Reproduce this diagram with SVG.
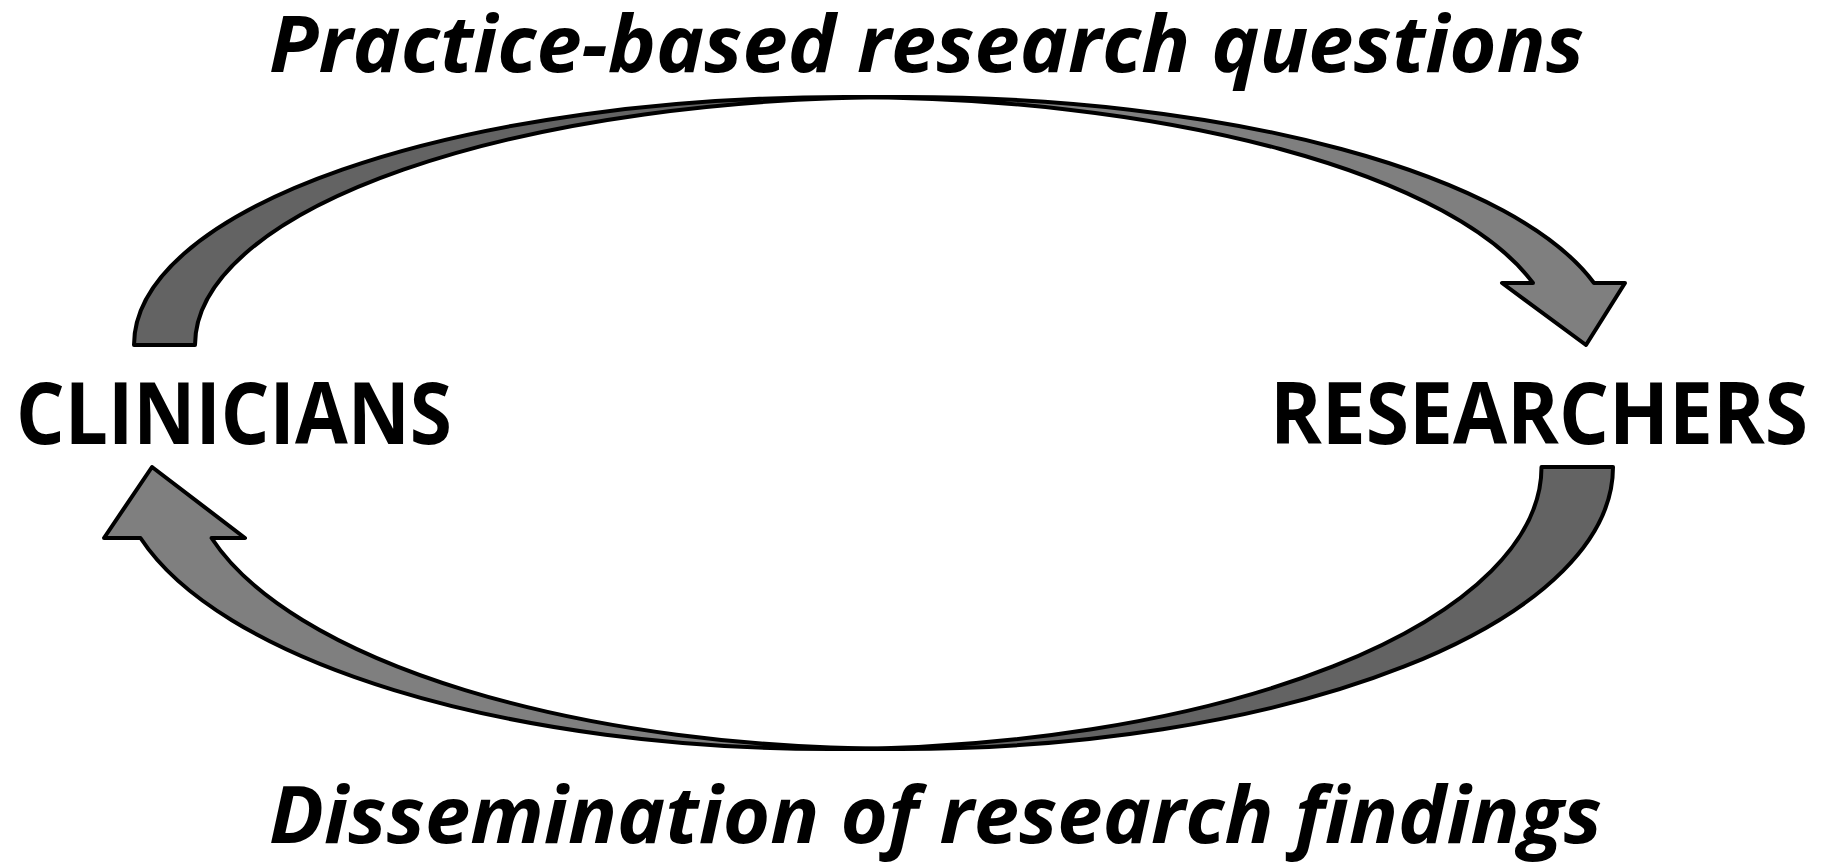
<svg xmlns="http://www.w3.org/2000/svg" width="1833" height="862" viewBox="0 0 1833 862">
<style>
.back{fill:#636363;stroke:#000;stroke-width:4;stroke-linejoin:round}
.front{fill:#7f7f7f;stroke:#000;stroke-width:4;stroke-linejoin:round}
.node{font-family:"Open Sans","Liberation Sans",sans-serif;font-weight:bold;font-size:78px;fill:#000}
.lbl{font-family:"Open Sans","Liberation Sans",sans-serif;font-weight:bold;font-style:italic;font-size:78px;fill:#000}
</style>
<rect width="1833" height="862" fill="#fff"/>
<g id="connectors">
  <g id="arrow-top">
    <path class="back" d="M134,345 A711,248 0 0 1 845,97 L906,97 A711,248 0 0 0 195,345 Z"/>
    <path class="front" d="M906,97 A711,248 0 0 1 1594,283 L1625,283 L1586,345 L1502,283 L1533,283 A711,248 0 0 0 845,97 Z"/>
  </g>
  <g id="arrow-bottom">
    <path class="back" d="M1613,467 A712,282 0 0 1 900.5,749 L829.5,749 A712,282 0 0 0 1541.5,467 Z"/>
    <path class="front" d="M829.5,749 A712,282 0 0 1 140.5,538 L104,538 L152,467 L245,538 L211.5,538 A712,282 0 0 0 900.5,749 Z"/>
  </g>
  <text class="lbl" x="269" y="72" textLength="1315" lengthAdjust="spacingAndGlyphs">Practice-based research questions</text>
  <text class="lbl" x="269" y="843" textLength="1333" lengthAdjust="spacingAndGlyphs">Dissemination of research findings</text>
</g>
<g id="clinicians">
  <text class="node" transform="translate(16,444) scale(1,1.115)" x="0" y="0" textLength="436" lengthAdjust="spacingAndGlyphs">CLINICIANS</text>
</g>
<g id="researchers">
  <text class="node" transform="translate(1270,444) scale(1,1.115)" x="0" y="0" textLength="538" lengthAdjust="spacingAndGlyphs">RESEARCHERS</text>
</g>
</svg>
